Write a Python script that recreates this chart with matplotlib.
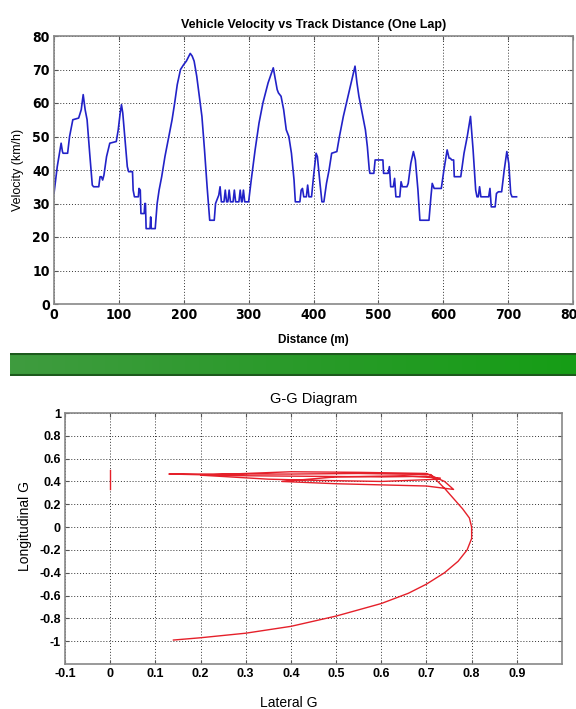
import numpy as np
import matplotlib.pyplot as plt
from matplotlib.colors import LinearSegmentedColormap

# VELOCITY TRACE
distance = [0, 5, 11, 13, 14, 21, 24, 29, 38, 42, 45, 48, 51, 55, 59, 61, 69, 71, 73, 75,
            77, 81, 86, 96, 99, 102, 104, 106, 110, 113, 115, 121, 122, 124, 130, 131, 133, 134, 139, 140,
            141, 142, 148, 149, 150, 156, 159, 162, 166, 171, 177, 182, 186, 190, 195, 200, 204, 210, 213, 216,
            220, 224, 228, 232, 236, 240, 247, 249, 251, 254, 256, 258, 262, 264, 266, 268, 270, 272, 276, 278,
            280, 285, 287, 289, 290, 292, 294, 300, 304, 310, 316, 322, 330, 338, 344, 346, 350, 354, 358, 362,
            366, 370, 372, 379, 381, 383, 385, 389, 391, 393, 397, 400, 404, 406, 410, 413, 416, 420, 424, 428,
            436, 440, 446, 452, 458, 464, 467, 470, 473, 477, 480, 483, 486, 487, 493, 495, 507, 508, 515, 517,
            519, 523, 525, 527, 533, 535, 537, 544, 546, 550, 554, 557, 561, 564, 578, 581, 583, 586, 597, 601,
            606, 609, 611, 613, 616, 617, 627, 632, 637, 642, 646, 650, 652, 654, 656, 658, 670, 672, 674, 680,
            682, 685, 690, 694, 698, 701, 704, 706, 713]
velocity = [33, 41, 48, 45.5, 45, 45, 50, 55, 55.5, 58, 62.5, 58, 55, 45, 35.5, 35, 35, 38, 38, 37,
            38.5, 44, 48, 48.5, 52, 57, 59.5, 57, 48, 41, 39.5, 39.5, 34, 32, 32, 34.5, 34, 27, 27, 30,
            30, 22.5, 22.5, 26, 22.5, 22.5, 30, 34, 38, 44, 50, 55, 60, 65.5, 70, 71.5, 72.5, 74.8, 74, 72.5,
            68, 62, 56, 46, 35, 25, 25, 30, 31, 32.5, 35, 30.5, 30.5, 34, 30.5, 30.5, 34, 30.5, 30.5, 34,
            30.5, 30.5, 34, 30.5, 30.5, 34, 30.5, 30.5, 37, 46, 54, 60, 66, 70.5, 64, 63, 62, 58, 52, 50,
            45, 37, 30.5, 30.5, 34, 34.5, 32, 32, 35.5, 32, 32, 38, 45, 44, 36, 30.5, 30.5, 36, 40, 45,
            45.5, 50, 56, 61, 66, 71, 66, 62, 59, 55, 52, 47, 40, 39, 39, 43, 43, 39, 39, 41,
            35, 35, 37.5, 32, 32, 36.5, 35, 35, 36, 42, 45.5, 43, 34, 25, 25, 32, 36, 34.5, 34.5, 40,
            46, 43.5, 43.5, 43, 43, 38, 38, 45, 50, 56, 46, 34, 32, 32, 35, 32, 32, 34.5, 29, 29,
            33, 33.5, 33.5, 40, 45.5, 42, 33, 32, 32]

# G-G TRACE
lat_spike = [0.0, 0.0]
lon_spike = [0.50, 0.33]
lat_g = [0.14, 0.20, 0.30, 0.40, 0.50, 0.60, 0.66, 0.70, 0.74, 0.77, 0.79, 0.80, 0.80, 0.795, 0.78, 0.76,
         0.74, 0.72, 0.71, 0.55, 0.40, 0.25, 0.13, 0.30, 0.45, 0.60, 0.70, 0.73, 0.60, 0.45, 0.35, 0.20,
         0.40, 0.55, 0.70, 0.74, 0.76, 0.70, 0.50, 0.38, 0.50, 0.65, 0.73]
lon_g = [-0.99, -0.97, -0.93, -0.87, -0.78, -0.67, -0.58, -0.50, -0.40, -0.30, -0.20, -0.10, 0.0, 0.08, 0.16, 0.25,
         0.34, 0.42, 0.46, 0.47, 0.465, 0.465, 0.465, 0.45, 0.445, 0.44, 0.445, 0.42, 0.40, 0.41, 0.42, 0.455,
         0.485, 0.48, 0.47, 0.40, 0.33, 0.36, 0.38, 0.40, 0.44, 0.45, 0.43]

x_ticks_top = list(range(0, 801, 100))
y_ticks_top = list(range(0, 81, 10))
x_ticks_gg = [-0.1, 0, 0.1, 0.2, 0.3, 0.4, 0.5, 0.6, 0.7, 0.8, 0.9]
y_ticks_gg = [-1, -0.8, -0.6, -0.4, -0.2, 0, 0.2, 0.4, 0.6, 0.8, 1]

arial = ['Liberation Sans', 'DejaVu Sans']
grid_kw = dict(color='#333333', linestyle=(0, (1, 2)), linewidth=0.7)

W, H = 576, 709
fig = plt.figure(figsize=(W / 100, H / 100), dpi=100)

# TOP: velocity vs distance
ax1 = fig.add_axes([54 / W, 1 - 304 / H, 519 / W, 268 / H])
ax1.plot(distance, velocity, color='#2222c8', linewidth=1.2)
ax1.set_xlim(0, 800)
ax1.set_ylim(0, 80)
ax1.set_xticks(x_ticks_top)
ax1.set_yticks(y_ticks_top)
# narrow bold digits like the reference
tick_font = dict(family='DejaVu Sans', fontstretch='condensed', fontweight='bold', fontsize=10)
ax1.set_xticklabels([str(v) for v in x_ticks_top], **tick_font)
ax1.set_yticklabels([str(v) for v in y_ticks_top], **tick_font)
ax1.grid(True, **grid_kw)
ax1.set_title('Vehicle Velocity vs Track Distance (One Lap)', family=arial, fontweight='bold',
              fontsize=9, pad=6)
ax1.set_xlabel('Distance (m)', family=arial, fontweight='bold', fontsize=8.5)
ax1.xaxis.set_label_coords(0.5, -0.135)
ax1.xaxis.label.set_va('center')
ax1.set_ylabel('Velocity (km/h)', family=arial, fontsize=9)
ax1.yaxis.set_label_coords(-0.069, 0.5)
ax1.yaxis.label.set_va('center')

# green separator band
axb = fig.add_axes([10 / W, 1 - 376 / H, 566 / W, 23 / H])
cmap = LinearSegmentedColormap.from_list('band', ['#3f9c3f', '#2a9a2a', '#169e16'])
axb.imshow(np.linspace(0, 1, 256)[None, :], aspect='auto', cmap=cmap, extent=[0, 1, 0, 1])
axb.axhline(0.97, color='#1d5a1d', linewidth=1.5)
axb.axhline(0.03, color='#1d5a1d', linewidth=1.5)
axb.set_xlim(0, 1)
axb.set_ylim(0, 1)
axb.axis('off')

# BOTTOM: G-G diagram
ax2 = fig.add_axes([65 / W, 1 - 664 / H, 497 / W, 251 / H])
ax2.plot(lat_spike, lon_spike, color='#e5202a', linewidth=1.0)
ax2.plot(lat_g, lon_g, color='#e5202a', linewidth=1.0)
ax2.set_xlim(-0.1, 1.0)
ax2.set_ylim(-1.2, 1.0)
ax2.set_xticks(x_ticks_gg)
ax2.set_yticks(y_ticks_gg)
ax2.set_xticklabels([f'{v:g}' for v in x_ticks_gg], family=arial, fontweight='bold', fontsize=9)
ax2.set_yticklabels([f'{v:g}' for v in y_ticks_gg], family=arial, fontweight='bold', fontsize=9)
ax2.grid(True, **grid_kw)
ax2.set_title('G-G Diagram', family=arial, fontsize=10.5, pad=7)
ax2.set_xlabel('Lateral G', family=arial, fontsize=10)
ax2.xaxis.set_label_coords(0.45, -0.155)
ax2.xaxis.label.set_va('center')
ax2.set_ylabel('Longitudinal G', family=arial, fontsize=10)
ax2.yaxis.set_label_coords(-0.08, 0.55)
ax2.yaxis.label.set_va('center')

for ax in (ax1, ax2):
    for sp in ax.spines.values():
        sp.set_color('#888888')
        sp.set_linewidth(1.2)
    ax.tick_params(direction='in', length=3, color='#555555', pad=3)
    ax.tick_params(top=True, right=True)

fig.savefig('out.png', dpi=100)
